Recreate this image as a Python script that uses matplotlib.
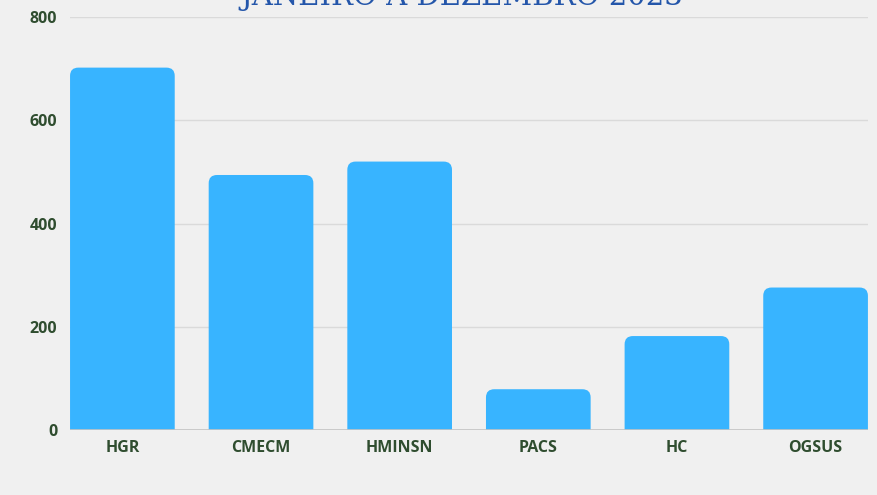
import matplotlib.pyplot as plt
from matplotlib.patches import FancyBboxPatch

# Data
units = ['HGR', 'CMECM', 'HMINSN', 'PACS', 'HC', 'OGSUS']
counts = [702, 494, 520, 79, 182, 276]
yticks = [0, 200, 400, 600, 800]

bar_color = '#38b4ff'
label_color = '#2f4d2f'

fig = plt.figure(figsize=(8.78, 4.95), dpi=100, facecolor='#f0f0f0')
ax = fig.add_axes([0.0797, 0.1313, 0.9089, 0.8343])
ax.set_facecolor('#f0f0f0')

bars = ax.bar(units, counts, width=0.755, color=bar_color, zorder=2)
ax.set_xlim(-0.378, 5.378)
ax.set_ylim(0, 800)

# rounded top corners: swap each bar for a rounded box, bottom hidden below 0
for b in bars:
    x, w, h = b.get_x(), b.get_width(), b.get_height()
    b.set_visible(False)
    box = FancyBboxPatch((x, -40), w, h + 40,
                         boxstyle='round,pad=0,rounding_size=0.06',
                         mutation_aspect=265, facecolor=bar_color,
                         edgecolor='none', zorder=2)
    ax.add_patch(box)

ax.set_yticks(yticks)
ax.yaxis.grid(True, color='#dadada', linewidth=1.0, zorder=0)
ax.axhline(0, color='#c4c4c4', linewidth=1.2, zorder=3)
for s in ax.spines.values():
    s.set_visible(False)
ax.tick_params(length=0)
ax.tick_params(axis='y', pad=9)
ax.tick_params(axis='x', pad=7)
for lab in ax.get_xticklabels() + ax.get_yticklabels():
    lab.set_fontfamily('Open Sans')
    lab.set_fontweight('bold')
    lab.set_fontsize(11.5)
    lab.set_color(label_color)

fig.text(0.526, 0.99, 'JANEIRO A DEZEMBRO 2023', ha='center', va='baseline',
         fontsize=21, family='DejaVu Serif', color='#2456aa')

fig.savefig('out.png', dpi=100, facecolor=fig.get_facecolor())
